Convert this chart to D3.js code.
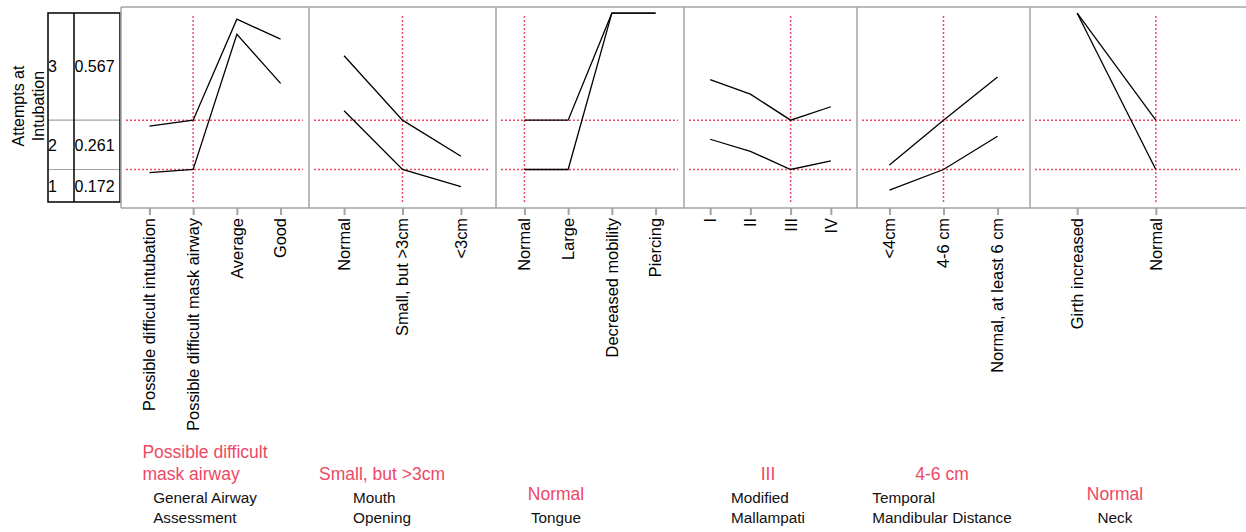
<!DOCTYPE html>
<html>
<head>
<meta charset="utf-8">
<script src="https://cdn.jsdelivr.net/npm/d3@7"></script>
<style>
  body { margin: 0; background: #fff; }
  text { font-family: "Liberation Sans", Arial, Helvetica, sans-serif; }
</style>
</head>
<body>
<div id="chart"></div>
<script>
// response levels and current predicted probabilities
var responseLevels = ["3", "2", "1"];
var responseProbs = [0.567, 0.261, 0.172];

// factor names (one entry per line) and current settings
var factorNames = [
  ["General Airway", "Assessment"],
  ["Mouth", "Opening"],
  ["Tongue"],
  ["Modified", "Mallampati"],
  ["Temporal", "Mandibular Distance"],
  ["Neck"]
];
var currentLabels = [
  ["Possible difficult", "mask airway"],
  ["Small, but >3cm"],
  ["Normal"],
  ["III"],
  ["4-6 cm"],
  ["Normal"]
];
var factorLevels = [
  ["Possible difficult intubation", "Possible difficult mask airway", "Average", "Good"],
  ["Normal", "Small, but >3cm", "<3cm"],
  ["Normal", "Large", "Decreased mobility", "Piercing"],
  ["I", "II", "III", "IV"],
  ["<4cm", "4-6 cm", "Normal, at least 6 cm"],
  ["Girth increased", "Normal"]
];
var currentIndex = [1, 1, 0, 2, 1, 1];

// cumulative probabilities: P(<=1) and P(<=2)
var cumLow = [
  [0.155, 0.172, 0.887, 0.628],
  [0.483, 0.172, 0.081],
  [0.172, 0.172, 0.999, 0.999],
  [0.332, 0.268, 0.172, 0.217],
  [0.063, 0.172, 0.348],
  [0.999, 0.172]
];
var cumHigh = [
  [0.402, 0.433, 0.967, 0.862],
  [0.774, 0.433, 0.242],
  [0.433, 0.433, 0.999, 0.999],
  [0.647, 0.571, 0.433, 0.504],
  [0.196, 0.433, 0.661],
  [0.999, 0.433]
];

// layout
var W = 1246, H = 532;
var panelLeft = [121, 309, 496, 684, 857, 1030];
var panelWidth = [188, 187, 188, 173, 173, 173];
var labelCenter = [205, 382, 556, 768, 942, 1115];
var frameTop = 7, frameBottom = 208;
var red = "#ee4864", grey = "#a3a3a3";

var svg = d3.select("#chart").append("svg")
    .attr("width", W)
    .attr("height", H);

var y = d3.scaleLinear().domain([0, 1]).range([202, 13]);

// current cumulative values from the table
var curLow = responseProbs[2];
var curHigh = responseProbs[2] + responseProbs[1];

// ---- left table ----
var table = svg.append("g");
var tabX0 = 48, tabX1 = 74, tabX2 = 120;
var bounds = [1, curHigh, curLow, 0];
table.selectAll(".rowline")
  .data([curHigh, curLow])
  .enter().append("line")
    .attr("x1", tabX0).attr("x2", tabX2)
    .attr("y1", function(d) { return y(d); })
    .attr("y2", function(d) { return y(d); })
    .attr("stroke", grey).attr("stroke-width", 1.2);
table.append("rect")
  .attr("x", tabX0).attr("y", y(1))
  .attr("width", tabX2 - tabX0).attr("height", y(0) - y(1))
  .attr("fill", "none").attr("stroke", "#000").attr("stroke-width", 1.5);
table.append("line")
  .attr("x1", tabX1).attr("x2", tabX1)
  .attr("y1", y(1)).attr("y2", y(0))
  .attr("stroke", "#000").attr("stroke-width", 1.5);

responseLevels.forEach(function(lv, i) {
  var cy = (y(bounds[i]) + y(bounds[i + 1])) / 2;
  table.append("text")
    .attr("x", tabX0).attr("y", cy).attr("dy", "0.36em")
    .attr("font-size", 16).text(lv);
  table.append("text")
    .attr("x", tabX1 + 0.5).attr("y", cy).attr("dy", "0.36em")
    .attr("font-size", 16).text(responseProbs[i].toFixed(3));
});

var ytitle = svg.append("text")
  .attr("transform", "translate(29,106) rotate(-90)")
  .attr("text-anchor", "middle")
  .attr("font-size", 16);
ytitle.append("tspan").attr("x", 0).attr("dy", "-0.32em").text("Attempts at");
ytitle.append("tspan").attr("x", 0).attr("dy", "1.25em").text("Intubation");

// ---- frame ----
svg.append("line")
  .attr("x1", panelLeft[0]).attr("x2", W)
  .attr("y1", frameTop).attr("y2", frameTop)
  .attr("stroke", grey).attr("stroke-width", 1.5);
svg.append("line")
  .attr("x1", panelLeft[0]).attr("x2", W)
  .attr("y1", frameBottom).attr("y2", frameBottom)
  .attr("stroke", grey).attr("stroke-width", 1.5);

// ---- panels ----
factorLevels.forEach(function(levels, k) {
  var x0 = panelLeft[k], x1 = x0 + panelWidth[k];
  var frameRight = (k == factorLevels.length - 1) ? W : x1;
  var x = d3.scalePoint()
    .domain(levels)
    .range([x0, x1])
    .padding(levels.length >= 4 ? 0.65 : 0.6);

  var g = svg.append("g");

  g.append("line")
    .attr("x1", x0).attr("x2", x0)
    .attr("y1", frameTop).attr("y2", frameBottom)
    .attr("stroke", grey).attr("stroke-width", 1.5);

  // reference lines at the current setting
  g.selectAll(".href")
    .data([curHigh, curLow])
    .enter().append("line")
      .attr("x1", x0 + 5).attr("x2", frameRight - 6)
      .attr("y1", function(d) { return y(d); })
      .attr("y2", function(d) { return y(d); })
      .attr("stroke", red).attr("stroke-width", 1.5)
      .attr("stroke-dasharray", "2,2");
  var cx = x(levels[currentIndex[k]]);
  g.append("line")
    .attr("x1", cx).attr("x2", cx)
    .attr("y1", 16).attr("y2", 202)
    .attr("stroke", red).attr("stroke-width", 1.5)
    .attr("stroke-dasharray", "2,2");

  var line = d3.line()
    .x(function(d, i) { return x(levels[i]); })
    .y(function(d) { return y(d); });
  g.selectAll(".trace")
    .data([cumHigh[k], cumLow[k]])
    .enter().append("path")
      .attr("fill", "none")
      .attr("stroke", "#000")
      .attr("stroke-width", 1.3)
      .attr("d", line);

  // ticks and rotated labels
  var ax = g.append("g").attr("transform", "translate(0," + frameBottom + ")")
    .call(d3.axisBottom(x).tickSize(7).tickFormat(""));
  ax.select(".domain").remove();
  ax.selectAll(".tick line").attr("stroke", grey).attr("stroke-width", 2);

  g.selectAll(".lvl")
    .data(levels)
    .enter().append("text")
      .attr("transform", function(d) { return "translate(" + x(d) + ",218) rotate(-90)"; })
      .attr("text-anchor", "end")
      .attr("dy", "0.36em")
      .attr("font-size", 16.4)
      .text(function(d) { return d; });

  // factor name (black) and current value (red)
  var names = factorNames[k], cur = currentLabels[k];
  var blackBase = 523 - (names.length - 1) * 20;
  var bt = g.append("text").attr("font-size", 15.3).attr("fill", "#111");
  names.forEach(function(s, i) {
    bt.append("tspan").attr("y", blackBase + i * 20).text(s);
  });
  var bw = 0;
  bt.selectAll("tspan").each(function() { bw = Math.max(bw, this.getComputedTextLength()); });
  bt.selectAll("tspan").attr("x", labelCenter[k] - bw / 2);

  var redBase = blackBase - 23 - (cur.length - 1) * 22;
  var rt = g.append("text").attr("font-size", 17.5).attr("fill", red);
  cur.forEach(function(s, i) {
    rt.append("tspan").attr("y", redBase + i * 22).text(s);
  });
  var rw = 0;
  rt.selectAll("tspan").each(function() { rw = Math.max(rw, this.getComputedTextLength()); });
  rt.selectAll("tspan").attr("x", labelCenter[k] - rw / 2);
});
</script>
</body>
</html>
